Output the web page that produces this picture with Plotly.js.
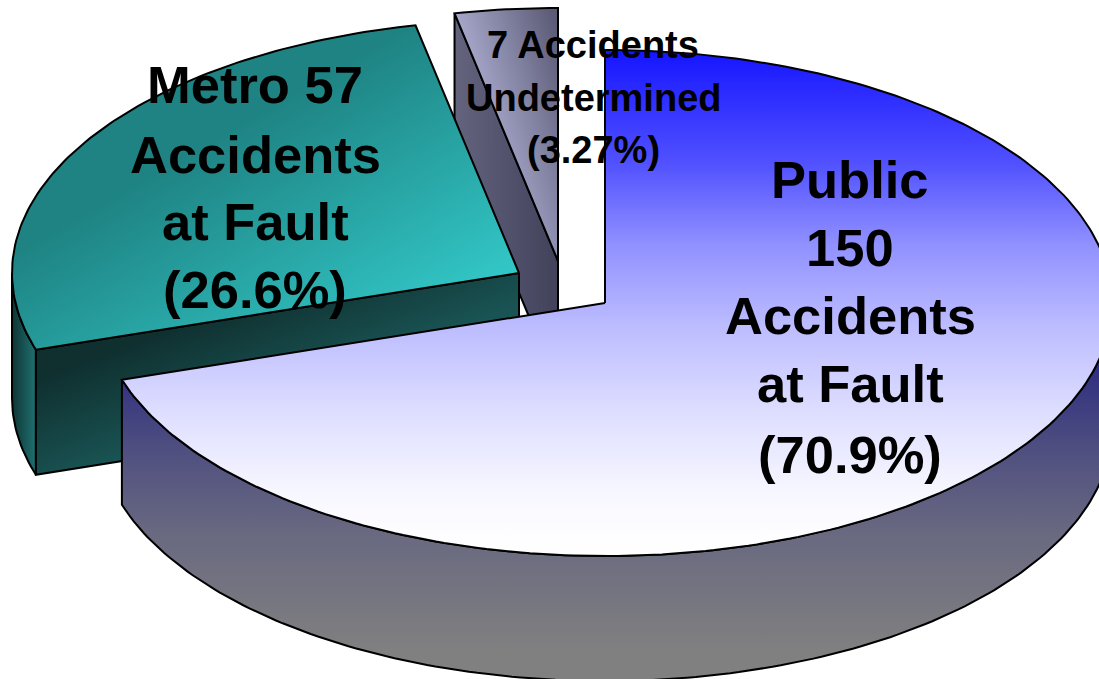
<!DOCTYPE html>
<html>
<head>
<meta charset="utf-8">
<script src="https://cdn.plot.ly/plotly-3.0.1.min.js"></script>
<style>html,body{margin:0;padding:0;background:#fff}#chart{width:1099px;height:679px}</style>
</head>
<body>
<div id="chart"></div>
<script>
// ---- data ----
const sliceNames = ["Public", "Metro", "Undetermined"];
const sliceValues = [150, 57, 7];
const publicLabel = ["Public", "150", "Accidents", "at Fault", "(70.9%)"];
const metroLabel = ["Metro 57", "Accidents", "at Fault", "(26.6%)"];
const undeterminedLabel = ["7 Accidents", "Undetermined", "(3.27%)"];

// ---- drawing set-up (3D pie projection) ----
const RX = 507, RY = 253, DEPTH = 125;
const C_PUBLIC = [605, 303], C_METRO = [519, 273], C_UNDET = [558, 261];
const total = sliceValues.reduce((a, b) => a + b, 0);
const A1 = 360 * sliceValues[0] / total;
const A2 = A1 + 360 * sliceValues[1] / total;

const rimPt = (c, t, dy = 0) => {
  const r = t * Math.PI / 180;
  return [c[0] + RX * Math.sin(r), c[1] - RY * Math.cos(r) + dy];
};
function arc(c, t0, t1, dy = 0) {
  const n = Math.max(2, Math.ceil(Math.abs(t1 - t0)));
  const pts = [];
  for (let i = 0; i <= n; i++) pts.push(rimPt(c, t0 + (t1 - t0) * i / n, dy));
  return pts;
}
const down = (p) => [p[0], p[1] + DEPTH];
const hex = (s) => [1, 3, 5].map(i => parseInt(s.substr(i, 2), 16));
const mix = (a, b, f) => {
  const A = hex(a), B = hex(b);
  return `rgb(${A.map((v, i) => Math.round(v + (B[i] - v) * f)).join(",")})`;
};
function clipHalf(poly, dir, th) {
  const out = [], val = (p) => p[0] * dir[0] + p[1] * dir[1] - th;
  for (let i = 0; i < poly.length; i++) {
    const a = poly[i], b = poly[(i + 1) % poly.length], va = val(a), vb = val(b);
    if (va >= 0) out.push(a);
    if ((va >= 0) !== (vb >= 0)) {
      const f = va / (va - vb);
      out.push([a[0] + (b[0] - a[0]) * f, a[1] + (b[1] - a[1]) * f]);
    }
  }
  return out;
}
const traces = [];
const polyTrace = (poly, extra) => Object.assign({
  type: "scatter", mode: "lines", hoverinfo: "skip", showlegend: false,
  x: poly.map(p => p[0]).concat([poly[0][0]]),
  y: poly.map(p => p[1]).concat([poly[0][1]])
}, extra);

// face painted with a linear gradient along any direction (dir), from p0 to p1
function gradFace(poly, dir, p0, p1, c0, c1, bands) {
  traces.push(polyTrace(poly, { fill: "toself", fillcolor: mix(c0, c1, 0), line: { width: 0 } }));
  for (let i = 1; i < bands; i++) {
    const f = i / bands, part = clipHalf(poly, dir, p0 + (p1 - p0) * f);
    if (part.length > 2) traces.push(polyTrace(part, { fill: "toself", fillcolor: mix(c0, c1, f), line: { width: 0 } }));
  }
  traces.push(polyTrace(poly, { line: { color: "#000", width: 2 } }));
}
// face with a vertical gradient using the library's fill gradient
function vertFace(poly, y0, y1, scale) {
  traces.push(polyTrace(poly, {
    fill: "toself",
    fillgradient: { type: "vertical", start: y0, stop: y1, colorscale: scale },
    line: { color: "#000", width: 2 }
  }));
}

// Undetermined slice
gradFace([rimPt(C_UNDET, A2), C_UNDET, down(C_UNDET), down(rimPt(C_UNDET, A2))],
  [1, 0], 452, 558, "#64647f", "#41415a", 35);
gradFace([C_UNDET].concat(arc(C_UNDET, A2, 360)),
  [0.958, -0.287], 429, 528, "#a8a8cc", "#5a5a75", 78);

// Metro slice
gradFace(arc(C_METRO, A1, 270).concat(arc(C_METRO, 270, A1, DEPTH)),
  [1, 0], 12, 36, "#0f3636", "#207272", 24);
gradFace([C_METRO, rimPt(C_METRO, A1), rimPt(C_METRO, A1, DEPTH), down(C_METRO)],
  [0.36, 0.93], 366, 470, "#103030", "#1a5454", 36);
gradFace([C_METRO].concat(arc(C_METRO, A1, A2)),
  [0.5, 0.87], 226, 496, "#1f8383", "#33c8c8", 69);

// Public slice
vertFace(arc(C_PUBLIC, 90, A1).concat(arc(C_PUBLIC, A1, 90, DEPTH)), 356, 679,
  [[0, "#2a2a80"], [0.29, "#4f4f80"], [0.539, "#686880"], [0.663, "#707080"], [0.91, "#808080"], [1, "#808080"]]);
vertFace([C_PUBLIC].concat(arc(C_PUBLIC, 0, A1)), 48, 556,
  [[0, "#1414ff"], [0.224, "#5050ff"], [0.386, "#9090ff"], [0.547, "#bcbcff"], [0.707, "#dcdcff"], [0.868, "#f6f6ff"], [0.949, "#fdfdff"], [1, "#ffffff"]]);

// ---- labels ----
const note = (text, x, y, size) => ({
  text, x, y, xref: "x", yref: "y", showarrow: false, xanchor: "center", yanchor: "middle",
  font: { family: "Liberation Sans, Arial, sans-serif", size, color: "#000", weight: 700 }
});
const annotations = [];
const publicY = [179, 247, 315, 383, 454], metroY = [84, 154, 221, 289], undetY = [45, 98, 150];
publicLabel.forEach((t, i) => annotations.push(note(t, 850, publicY[i], 52.5)));
metroLabel.forEach((t, i) => annotations.push(note(t, 255, metroY[i], 52.5)));
undeterminedLabel.forEach((t, i) => annotations.push(note(t, 593, undetY[i], 38)));

Plotly.newPlot("chart", traces, {
  width: 1099, height: 679,
  margin: { l: 0, r: 0, t: 0, b: 0 },
  paper_bgcolor: "#fff", plot_bgcolor: "#fff",
  showlegend: false,
  xaxis: { range: [0, 1099], visible: false, fixedrange: true },
  yaxis: { range: [679, 0], visible: false, fixedrange: true },
  annotations
}, { displayModeBar: false, staticPlot: true });
</script>
</body>
</html>
